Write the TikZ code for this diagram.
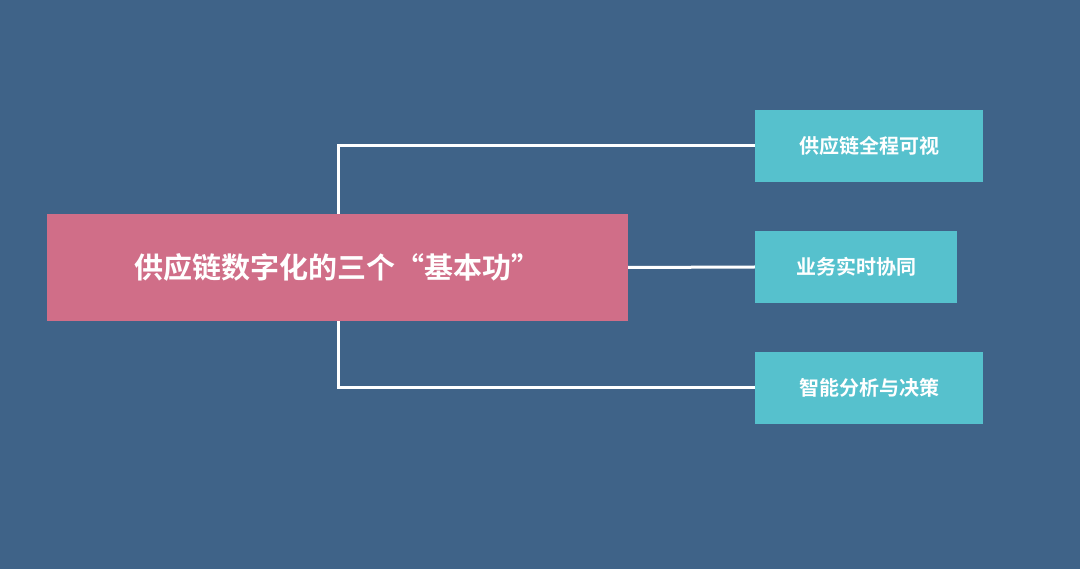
\documentclass[tikz,border=0pt]{standalone}
\usepackage{fontspec}
\newfontfamily\cjk{Noto Sans CJK SC Bold}
\definecolor{bg}{HTML}{3F6388}
\definecolor{pinkc}{HTML}{D06E88}
\definecolor{cyanc}{HTML}{56C1CD}
\begin{document}
\begin{tikzpicture}[x=1pt,y=-1pt,
  mainbox/.style={fill=pinkc,draw=none,minimum width=581pt,minimum height=107pt,text=white,font=\cjk\fontsize{29}{34}\selectfont,inner sep=0pt},
  leafbox/.style={fill=cyanc,draw=none,minimum height=72pt,text=white,font=\cjk\fontsize{20}{24}\selectfont,inner sep=0pt},
  conn/.style={draw=white,line width=3pt}]
\fill[bg] (0,0) rectangle (1080,569);
\node[mainbox] (m) at (337.5,267.5) {供应链数字化的三个“基本功”};
\node[leafbox,minimum width=228pt] (a) at (869,146) {供应链全程可视};
\node[leafbox,minimum width=202pt] (b) at (856,267) {业务实时协同};
\node[leafbox,minimum width=228pt] (c) at (869,388) {智能分析与决策};
\draw[conn] (m.north -| 338,0) |- (a.west);
\draw[conn] (m.east) -- (b.west);
\draw[conn] (m.south -| 338,0) |- (c.west);
\end{tikzpicture}
\end{document}
